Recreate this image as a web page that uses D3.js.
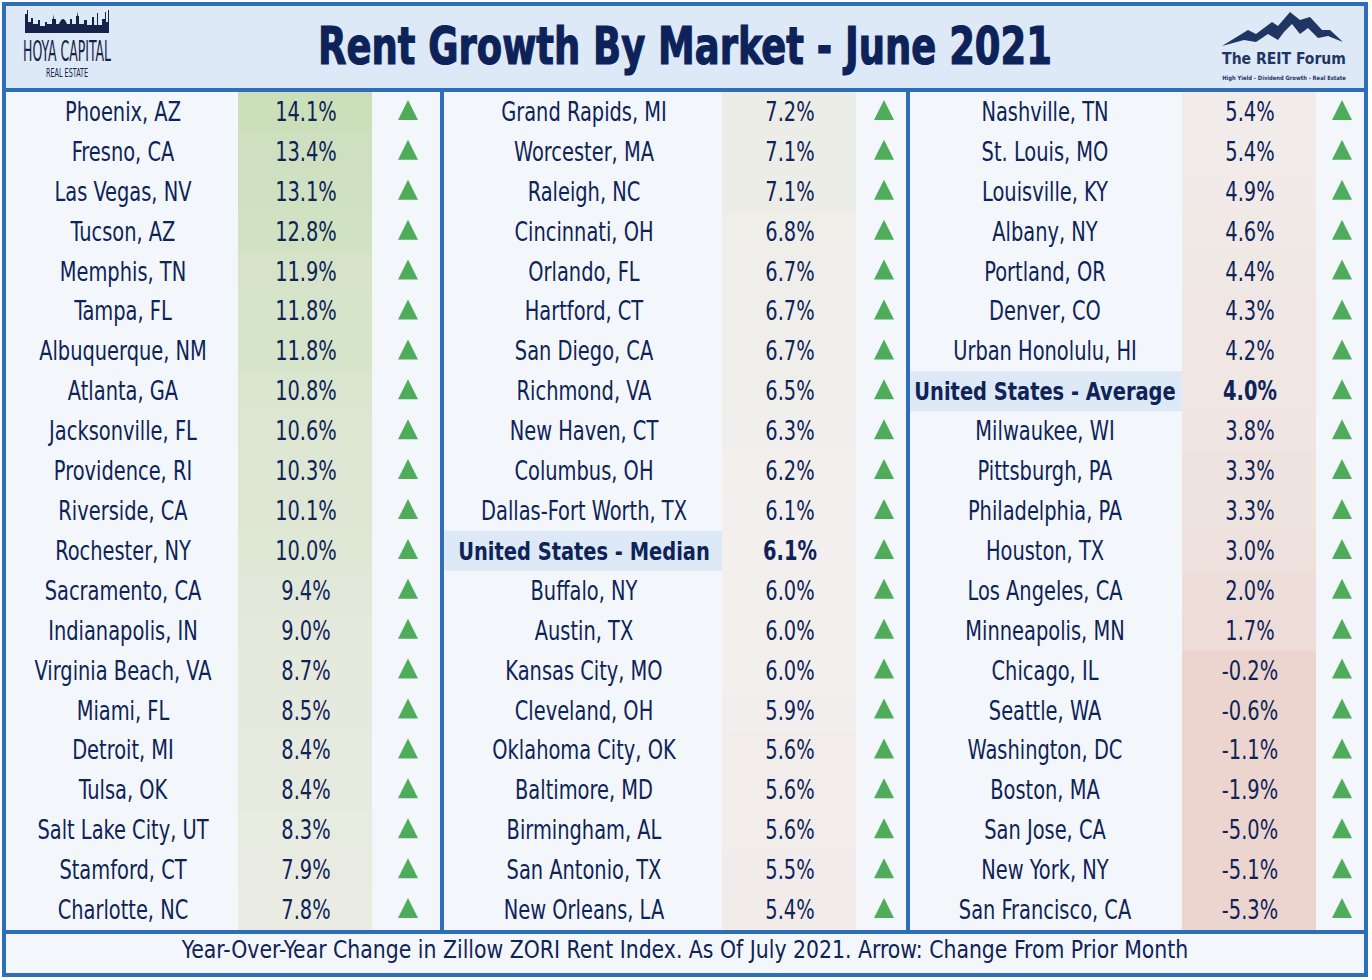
<!DOCTYPE html>
<html>
<head>
<meta charset="utf-8">
<script src="https://cdn.jsdelivr.net/npm/d3@7"></script>
<style>
  body { margin: 0; background: #ffffff; }
  svg { display: block; }
</style>
</head>
<body>
<div id="chart"></div>
<script>
// markets in the order they appear, top to bottom, column by column
const marketsLeft = [
  "Phoenix, AZ", "Fresno, CA", "Las Vegas, NV", "Tucson, AZ", "Memphis, TN",
  "Tampa, FL", "Albuquerque, NM", "Atlanta, GA", "Jacksonville, FL", "Providence, RI",
  "Riverside, CA", "Rochester, NY", "Sacramento, CA", "Indianapolis, IN", "Virginia Beach, VA",
  "Miami, FL", "Detroit, MI", "Tulsa, OK", "Salt Lake City, UT", "Stamford, CT", "Charlotte, NC"
];
const growthLeft = [14.1, 13.4, 13.1, 12.8, 11.9, 11.8, 11.8, 10.8, 10.6, 10.3, 10.1, 10.0,
  9.4, 9.0, 8.7, 8.5, 8.4, 8.4, 8.3, 7.9, 7.8];
const arrowsLeft = "UUUUUUUUUUUUUUUUUUUUU";

const marketsMiddle = [
  "Grand Rapids, MI", "Worcester, MA", "Raleigh, NC", "Cincinnati, OH", "Orlando, FL",
  "Hartford, CT", "San Diego, CA", "Richmond, VA", "New Haven, CT", "Columbus, OH",
  "Dallas-Fort Worth, TX", "United States - Median", "Buffalo, NY", "Austin, TX", "Kansas City, MO",
  "Cleveland, OH", "Oklahoma City, OK", "Baltimore, MD", "Birmingham, AL", "San Antonio, TX", "New Orleans, LA"
];
const growthMiddle = [7.2, 7.1, 7.1, 6.8, 6.7, 6.7, 6.7, 6.5, 6.3, 6.2, 6.1, 6.1,
  6.0, 6.0, 6.0, 5.9, 5.6, 5.6, 5.6, 5.5, 5.4];
const arrowsMiddle = "UUUUUUUUUUUUUUUUUUUUU";

const marketsRight = [
  "Nashville, TN", "St. Louis, MO", "Louisville, KY", "Albany, NY", "Portland, OR",
  "Denver, CO", "Urban Honolulu, HI", "United States - Average", "Milwaukee, WI", "Pittsburgh, PA",
  "Philadelphia, PA", "Houston, TX", "Los Angeles, CA", "Minneapolis, MN", "Chicago, IL",
  "Seattle, WA", "Washington, DC", "Boston, MA", "San Jose, CA", "New York, NY", "San Francisco, CA"
];
const growthRight = [5.4, 5.4, 4.9, 4.6, 4.4, 4.3, 4.2, 4.0, 3.8, 3.3, 3.3, 3.0,
  2.0, 1.7, -0.2, -0.6, -1.1, -1.9, -5.0, -5.1, -5.3];
const arrowsRight = "UUUUUUUUUUUUUUUUUUUUU";

const summaryRows = ["United States - Median", "United States - Average"];

const titleText = "Rent Growth By Market - June 2021";
const footerText = "Year-Over-Year Change in Zillow ZORI Rent Index. As Of July 2021. Arrow: Change From Prior Month";

// ---- layout ----
const W = 1372, H = 980;
const blue = "#2e6db8";
const ink = "#0e2357";
const font = '"Liberation Sans Narrow", "DejaVu Sans Condensed", "Roboto Condensed", sans-serif';
const squeeze = 0.83; // no condensed face installed, so narrow the glyphs by hand

const columns = [
  { names: marketsLeft, values: growthLeft, arrows: arrowsLeft, left: 6, city: 123, cell: [238, 372], arrow: 408 },
  { names: marketsMiddle, values: growthMiddle, arrows: arrowsMiddle, left: 444, city: 584, cell: [722, 856], arrow: 884 },
  { names: marketsRight, values: growthRight, arrows: arrowsRight, left: 910, city: 1045, cell: [1182, 1316], arrow: 1342 }
];

function condense(sel, k) {
  sel.each(function () {
    const len = this.getComputedTextLength();
    this.setAttribute("textLength", len * k);
    this.setAttribute("lengthAdjust", "spacingAndGlyphs");
  });
}

// squash a text horizontally to an exact width with a transform
function fitWidth(sel, cx, baseline, width) {
  const len = sel.node().getComputedTextLength();
  sel.attr("x", 0).attr("y", 0)
    .attr("transform", `translate(${cx},${baseline}) scale(${width / len},1)`);
}

const svg = d3.select("#chart").append("svg")
  .attr("width", W)
  .attr("height", H)
  .attr("viewBox", `0 0 ${W} ${H}`);

// body + header fill
svg.append("rect")
  .attr("x", 4).attr("y", 4)
  .attr("width", 1362).attr("height", 971)
  .attr("fill", "#f3f7fc");

svg.append("rect")
  .attr("x", 6).attr("y", 6)
  .attr("width", 1358).attr("height", 82)
  .attr("fill", "#dde9f6");

const y = d3.scaleBand()
  .domain(d3.range(21))
  .range([92, 930]);

const allValues = [...growthLeft, ...growthMiddle, ...growthRight];
const median = d3.median(allValues);
// 3-colour scale: anything at or below zero is full red, median neutral, max green
const color = d3.scaleLinear()
  .domain([0, median, d3.max(allValues)])
  .range(["#ecd5cf", "#f2efee", "#cbdfba"])
  .clamp(true);

columns.forEach(col => {
  const rows = col.names.map((name, i) => ({
    name,
    value: col.values[i],
    up: col.arrows[i] === "U",
    i,
    summary: summaryRows.includes(name)
  }));

  const g = svg.append("g");

  // highlight band behind summary row names
  g.selectAll("rect.band")
    .data(rows.filter(d => d.summary))
    .enter().append("rect")
    .attr("class", "band")
    .attr("x", col.left)
    .attr("y", d => y(d.i))
    .attr("width", col.cell[0] - col.left)
    .attr("height", y.bandwidth())
    .attr("fill", "#dde9f6");

  // value cells coloured by growth
  g.selectAll("rect.cell")
    .data(rows)
    .enter().append("rect")
    .attr("class", "cell")
    .attr("x", col.cell[0])
    .attr("y", d => y(d.i))
    .attr("width", col.cell[1] - col.cell[0])
    .attr("height", y.bandwidth() + 0.5)
    .attr("fill", d => color(d.value));

  g.selectAll("text.city")
    .data(rows)
    .enter().append("text")
    .attr("class", "city")
    .attr("x", col.city)
    .attr("y", d => y(d.i) + y.bandwidth() / 2 + 9)
    .attr("text-anchor", "middle")
    .attr("font-family", font)
    .attr("font-size", d => d.summary ? 24 : 26)
    .attr("font-weight", d => d.summary ? "bold" : "normal")
    .attr("fill", ink)
    .text(d => d.name)
    .each(function (d) { condense(d3.select(this), d.summary ? 0.9 : squeeze); });

  g.selectAll("text.value")
    .data(rows)
    .enter().append("text")
    .attr("class", "value")
    .attr("x", (col.cell[0] + col.cell[1]) / 2 + 1)
    .attr("y", d => y(d.i) + y.bandwidth() / 2 + 9)
    .attr("text-anchor", "middle")
    .attr("font-family", font)
    .attr("font-size", 26)
    .attr("font-weight", d => d.summary ? "bold" : "normal")
    .attr("fill", ink)
    .text(d => d.value.toFixed(1) + "%")
    .call(condense, squeeze);

  // change-from-prior-month arrows
  g.selectAll("path.arrow")
    .data(rows)
    .enter().append("path")
    .attr("class", "arrow")
    .attr("transform", d => `translate(${col.arrow},${y(d.i) + y.bandwidth() / 2 - 2})${d.up ? "" : " rotate(180)"}`)
    .attr("d", "M0,-10L10,10L-10,10Z")
    .attr("fill", d => d.up ? "#4fac5b" : "#c0392b");
});

// grid lines and frame
const lines = svg.append("g").attr("stroke", blue).attr("stroke-width", 4);
lines.append("line").attr("x1", 4).attr("x2", 1366).attr("y1", 90).attr("y2", 90);
lines.append("line").attr("x1", 4).attr("x2", 1366).attr("y1", 932).attr("y2", 932);
[442, 908].forEach(x => {
  lines.append("line").attr("x1", x).attr("x2", x).attr("y1", 90).attr("y2", 932);
});
svg.append("rect")
  .attr("x", 4).attr("y", 4)
  .attr("width", 1362).attr("height", 971)
  .attr("fill", "none")
  .attr("stroke", blue)
  .attr("stroke-width", 4);

// title
svg.append("text")
  .attr("text-anchor", "middle")
  .attr("font-family", font)
  .attr("font-size", 52)
  .attr("font-weight", "bold")
  .attr("fill", "#0c2259")
  .attr("stroke", "#0c2259")
  .attr("stroke-width", 1.2)
  .text(titleText)
  .call(fitWidth, 685, 64, 734);

// footer
svg.append("text")
  .attr("text-anchor", "middle")
  .attr("font-family", font)
  .attr("font-size", 24)
  .attr("fill", ink)
  .text(footerText)
  .call(fitWidth, 685, 958, 1007);

// Hoya Capital logo (simplified skyline)
const hoya = svg.append("g").attr("fill", "#17224a");
hoya.append("path")
  .attr("d", "M25,33 L25,14 L27,14 L27,10 L28,10 L28,22 L31,22 L31,18 L33,18 L33,24 L38,24 L38,20 L40,20 L40,26 " +
    "L45,26 L45,22 L47,22 L47,24 L52,24 L52,19 L53,19 L53,14 L54,19 L56,19 L56,24 L59,24 " +
    "Q63,14 67,24 L70,24 L70,19 L72,19 L72,24 L76,24 L76,16 L77,16 L77,11 L78,16 L79,16 L79,24 " +
    "L84,24 L84,20 L87,20 L87,25 L92,25 L92,17 L94,17 L94,25 L97,25 L97,13 L98,13 L98,25 " +
    "L102,25 L102,19 L105,19 L105,12 L106,12 L106,22 L108,22 L108,10 L109,10 L109,33 Z");
hoya.append("text")
  .attr("text-anchor", "middle")
  .attr("font-family", font)
  .attr("font-size", 28)
  .text("HOYA CAPITAL")
  .call(fitWidth, 67, 61, 88);
hoya.append("text")
  .attr("text-anchor", "middle")
  .attr("font-family", font)
  .attr("font-size", 12)
  .text("REAL ESTATE")
  .call(fitWidth, 67, 77, 42);

// The REIT Forum logo (simplified mountains)
const reit = svg.append("g").attr("fill", "#1f3563");
reit.append("path")
  .attr("d", "M1222,46 L1248,30 L1256,34 L1272,22 L1278,26 L1290,12 L1300,20 L1310,17 L1322,30 " +
    "L1330,30 L1343,42 L1328,36 L1318,38 L1308,28 L1300,34 L1292,24 L1284,32 L1278,40 L1268,34 L1256,42 L1244,40 Z");
reit.append("text")
  .attr("text-anchor", "middle")
  .attr("font-family", font)
  .attr("font-size", 16)
  .attr("font-weight", "bold")
  .text("The REIT Forum")
  .call(fitWidth, 1284, 64, 124);
reit.append("text")
  .attr("text-anchor", "middle")
  .attr("font-family", font)
  .attr("font-size", 6)
  .attr("font-weight", "bold")
  .text("High Yield - Dividend Growth - Real Estate")
  .call(fitWidth, 1284, 80, 124);
</script>
</body>
</html>
